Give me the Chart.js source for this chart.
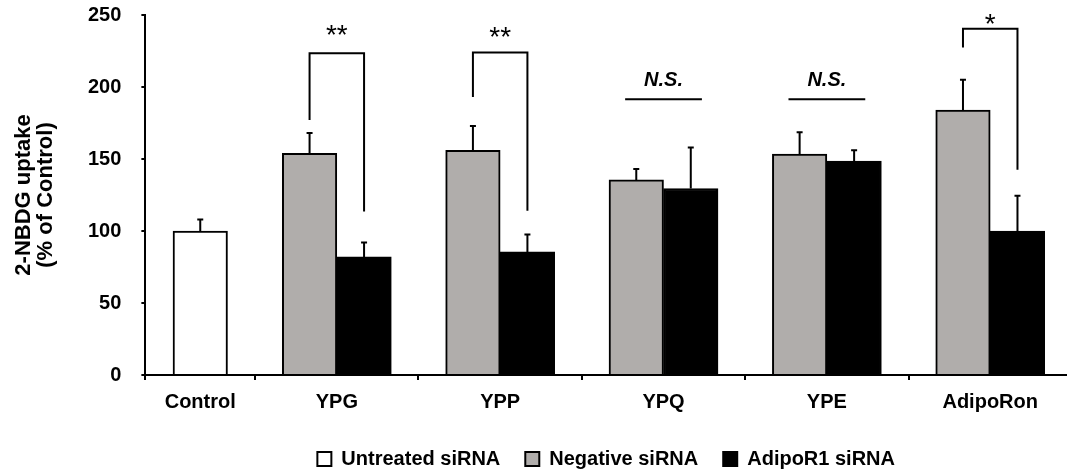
<!DOCTYPE html>
<html>
<head>
<meta charset="utf-8">
<script src="https://cdn.jsdelivr.net/npm/chart.js@4.4.1/dist/chart.umd.min.js"></script>
<style>
  html, body { margin: 0; padding: 0; background: #fff; }
</style>
</head>
<body>
<canvas id="chart" width="1067" height="474"></canvas>
<script>
// Groups and measured uptake (% of control), mean and upper error (SD)
const groupLabels = ['Control', 'YPG', 'YPP', 'YPQ', 'YPE', 'AdipoRon'];
const untreated    = [100, null, null, null, null, null];
const untreatedErr = [8, null, null, null, null, null];
const negative     = [null, 154, 156, 135.5, 153.5, 184];
const negativeErr  = [null, 14, 17, 7.5, 15, 21];
const adipoR1      = [null, 82, 85.5, 129.5, 148.5, 100];
const adipoR1Err   = [null, 10, 12, 28.5, 7.5, 24.5];
const yTicks = [0, 50, 100, 150, 200, 250];

// Significance annotations (heights in % of control)
const sigGroups   = ['YPG', 'YPP', 'AdipoRon'];
const sigMarks    = ['**', '**', '*'];
const sigTop      = [223.5, 224, 240.5];
const sigLeftEnd  = [177, 193, 227.5];
const sigRightEnd = [113.5, 114, 142.5];
const sigMarkY    = [235, 234, 243];
const nsGroups = ['YPQ', 'YPE'];
const nsLineY = 191.5;
const nsTextY = 204.5;

// Slot layout on the x scale: the control sits in a narrower slot before the treatment groups
const slotEdges = [-0.172, 0.5, 1.5, 2.5, 3.5, 4.5];
const xMax = 5.47;
const slotX = [(slotEdges[0] + slotEdges[1]) / 2, 1, 2, 3, 4, 5];

const FONT = "'Liberation Sans', Arial, Helvetica, sans-serif";
Chart.defaults.font.family = FONT;
Chart.defaults.color = '#000';

const toPoints = arr => arr.map((v, i) => ({ x: slotX[i], y: v }));

// Error bars, brackets and significance labels
const annotate = {
  id: 'annotate',
  afterDatasetsDraw(chart) {
    const { ctx, scales: { x, y } } = chart;
    ctx.save();
    ctx.strokeStyle = '#000';
    ctx.fillStyle = '#000';
    ctx.lineWidth = 2;
    ctx.lineCap = 'butt';

    const errs = [untreatedErr, negativeErr, adipoR1Err];
    errs.forEach((err, di) => {
      const meta = chart.getDatasetMeta(di);
      meta.data.forEach((bar, i) => {
        if (err[i] == null) return;
        const v = chart.data.datasets[di].data[i].y;
        const top = y.getPixelForValue(v + err[i]);
        ctx.beginPath();
        ctx.moveTo(bar.x, bar.y);
        ctx.lineTo(bar.x, top);
        ctx.moveTo(bar.x - 3, top);
        ctx.lineTo(bar.x + 3, top);
        ctx.stroke();
      });
    });

    sigGroups.forEach((g, k) => {
      const i = groupLabels.indexOf(g);
      const xl = chart.getDatasetMeta(1).data[i].x;
      const xr = chart.getDatasetMeta(2).data[i].x;
      const yt = y.getPixelForValue(sigTop[k]);
      ctx.beginPath();
      ctx.moveTo(xl, y.getPixelForValue(sigLeftEnd[k]));
      ctx.lineTo(xl, yt);
      ctx.lineTo(xr, yt);
      ctx.lineTo(xr, y.getPixelForValue(sigRightEnd[k]));
      ctx.stroke();
      ctx.font = '28px ' + FONT;
      ctx.textAlign = 'center';
      ctx.textBaseline = 'middle';
      ctx.fillText(sigMarks[k], (xl + xr) / 2, y.getPixelForValue(sigMarkY[k]));
    });

    nsGroups.forEach(g => {
      const c = slotX[groupLabels.indexOf(g)];
      const yl = y.getPixelForValue(nsLineY);
      ctx.beginPath();
      ctx.moveTo(x.getPixelForValue(c - 0.235), yl);
      ctx.lineTo(x.getPixelForValue(c + 0.235), yl);
      ctx.stroke();
      ctx.font = 'italic bold 20px ' + FONT;
      ctx.textAlign = 'center';
      ctx.textBaseline = 'middle';
      ctx.fillText('N.S.', x.getPixelForValue(c), y.getPixelForValue(nsTextY));
    });
    ctx.restore();
  }
};

const barStyle = { borderColor: '#000', borderWidth: 2, barThickness: 54.5, skipNull: true };

new Chart(document.getElementById('chart'), {
  type: 'bar',
  data: {
    datasets: [
      { label: 'Untreated siRNA', data: toPoints(untreated), backgroundColor: '#ffffff', ...barStyle },
      { label: 'Negative siRNA', data: toPoints(negative), backgroundColor: '#b0adab', ...barStyle },
      { label: 'AdipoR1 siRNA', data: toPoints(adipoR1), backgroundColor: '#000000', ...barStyle }
    ]
  },
  options: {
    responsive: false,
    animation: false,
    layout: { padding: { top: 15, right: 0, bottom: -5, left: 0 } },
    scales: {
      x: {
        type: 'linear',
        min: slotEdges[0],
        max: xMax,
        offset: false,
        afterBuildTicks(scale) {
          const vals = [...slotEdges, ...slotX].sort((a, b) => a - b);
          scale.ticks = vals.map(v => ({ value: v }));
        },
        ticks: {
          autoSkip: false,
          maxRotation: 0,
          padding: 10,
          font: { size: 20, weight: 'bold' },
          callback(value) {
            const i = slotX.indexOf(value);
            return i >= 0 ? groupLabels[i] : '';
          }
        },
        grid: {
          offset: false,
          drawOnChartArea: false,
          drawTicks: true,
          tickLength: 5,
          lineWidth: 2,
          tickColor: ctx => (ctx.tick && slotEdges.includes(ctx.tick.value)) ? '#000' : 'rgba(0,0,0,0)'
        },
        border: { display: true, color: '#000', width: 2 }
      },
      y: {
        min: 0,
        max: 250,
        afterBuildTicks(scale) {
          scale.ticks = yTicks.map(v => ({ value: v }));
        },
        // the gap between labels and tick marks should not push the plot area down
        afterFit(scale) {
          scale.paddingTop -= scale.options.ticks.padding;
          scale.paddingBottom -= scale.options.ticks.padding;
        },
        ticks: {
          padding: 20,
          font: { size: 20, weight: 'bold' }
        },
        grid: {
          drawOnChartArea: false,
          drawTicks: true,
          tickLength: 4,
          lineWidth: 2,
          tickColor: '#000'
        },
        border: { display: true, color: '#000', width: 2 },
        title: {
          display: true,
          text: ['2-NBDG uptake', '(% of Control)'],
          font: { size: 22, weight: 'bold', lineHeight: 1.0 },
          padding: { top: 13, bottom: 11 }
        }
      }
    },
    plugins: {
      legend: {
        position: 'bottom',
        fullSize: false,
        labels: {
          boxWidth: 14,
          boxHeight: 14,
          padding: 25,
          color: '#000',
          font: { size: 20, weight: 'bold' }
        }
      },
      tooltip: { enabled: false }
    }
  },
  plugins: [annotate]
});
</script>
</body>
</html>
